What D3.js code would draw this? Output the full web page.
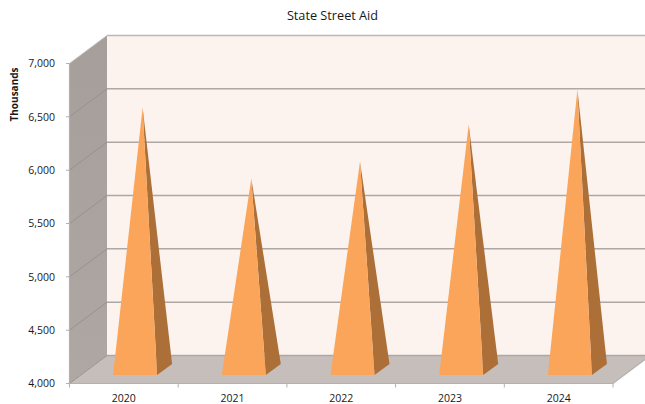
<!DOCTYPE html>
<html><head><meta charset="utf-8">
<script src="https://cdn.jsdelivr.net/npm/d3@7"></script>
<style>html,body{margin:0;padding:0;background:#fff;overflow:hidden}svg{display:block}text{font-family:"Open Sans",sans-serif;fill:#161616;opacity:.99}</style>
</head><body><svg id="c" width="645" height="404"></svg>
<script>
const categories=["2020","2021","2022","2023","2024"];
const values=[6456,5790,5950,6297,6625];
const tickValues=[4000,4500,5000,5500,6000,6500,7000];
const title="State Street Aid", yTitle="Thousands";
const colors={wall:"#fcf3ee",side0:"#a59e9a",side1:"#aea7a3",sideGrid:"#979190",floor:"#c6bebb",grid:"#aea7a4",axis:"#b5b0ad",front:"#fba55a",dark:"#ab6f37"};

const svg=d3.select("#c");
const y=d3.scaleLinear().domain([4000,7000]).range([383.5,63.5]);
const x=d3.scaleBand().domain(categories).range([69.5,613]);
const dx=37.5,dy=-28;
const line=d3.line();
const off=(px,py,t)=>[px+dx*t,py+dy*t];
const x0=x.range()[0],x1=x.range()[1],yb=y(4000),yt=y(7000);

const defs=svg.append("defs");
const g=defs.append("linearGradient").attr("id","sg").attr("x1",0).attr("x2",0).attr("y1",0).attr("y2",1);
g.append("stop").attr("offset",0).attr("stop-color",colors.side0);
g.append("stop").attr("offset",1).attr("stop-color",colors.side1);
defs.append("clipPath").attr("id","cp").append("rect").attr("width",645).attr("height",404);

const root=svg.append("g").attr("clip-path","url(#cp)");
root.append("path").attr("d",line([off(x0,yt,1),off(x1,yt,1),off(x1,yb,1),off(x0,yb,1)])+"Z").attr("fill",colors.wall);
root.append("path").attr("d",line([[x0,yt],off(x0,yt,1),off(x0,yb,1),[x0,yb]])+"Z").attr("fill","url(#sg)");
root.append("path").attr("d",line([[x0,yb],off(x0,yb,1),off(x1,yb,1),[x1,yb]])+"Z").attr("fill",colors.floor);
tickValues.forEach(v=>{
  const top=v===7000;
  root.append("path").attr("fill","none").attr("stroke",top?"#c2bcb8":colors.sideGrid).attr("stroke-width",1)
   .attr("d",line([[x0,y(v)],off(x0,y(v),1)]));
  root.append("path").attr("fill","none").attr("stroke",top?"#bdb7b3":colors.grid).attr("stroke-width",1.5)
   .attr("d",line([off(x0,y(v),1),off(x1,y(v),1)]));
});
root.append("path").attr("fill","none").attr("stroke",colors.axis).attr("stroke-width",1.2).attr("d",line([[x0,yt],[x0,yb],[x1,yb],off(x1,yb,1)]));
tickValues.forEach(v=>{
  root.append("path").attr("stroke",colors.axis).attr("d",line([[x0-3.5,y(v)],[x0,y(v)]]));
  svg.append("text").attr("x",55).attr("y",y(v)).attr("dy","0.35em").attr("text-anchor","end").attr("font-size",10.5).text(d3.format(",")(v));
});
[...categories.map(c=>x(c)),x1].forEach(p=>{
  root.append("path").attr("stroke",colors.axis).attr("d",line([[p,yb],[p,yb+4]]));
});
categories.forEach(c=>{
  svg.append("text").attr("x",x(c)+x.bandwidth()/2).attr("y",402).attr("text-anchor","middle").attr("font-size",10.5).text(c);
});
const fd=0.3,bd=0.7;
categories.forEach((c,i)=>{
  const cx=x(c)+x.bandwidth()/2;
  const half=x.bandwidth()*0.2025;
  const fl=off(cx-half,yb,fd),fr=off(cx+half,yb,fd),br=off(cx+half,yb,bd);
  const apex=off(cx,y(values[i]),0.5);
  root.append("path").attr("d",line([fr,br,apex])+"Z").attr("fill",colors.dark);
  root.append("path").attr("d",line([fl,fr,apex])+"Z").attr("fill",colors.front);
});
svg.append("text").attr("x",332.5).attr("y",20).attr("text-anchor","middle").attr("font-size",12.7).text(title);
svg.append("text").attr("transform","translate(18,94.5) rotate(-90)").attr("text-anchor","middle").attr("font-size",10).attr("font-weight",700).text(yTitle);
</script></body></html>
